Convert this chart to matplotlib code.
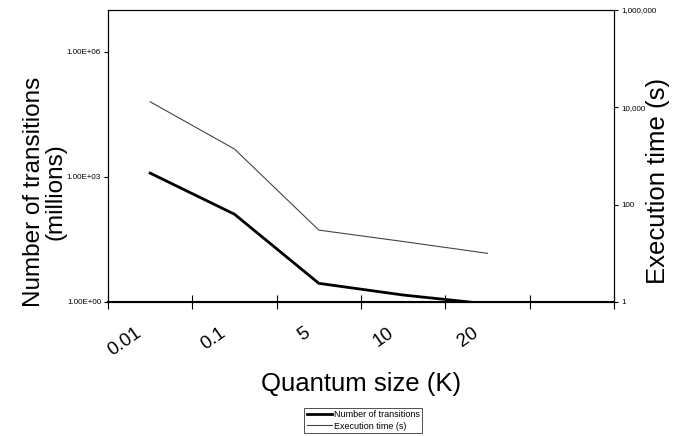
import matplotlib.pyplot as plt
import matplotlib.transforms as mtransforms
from matplotlib.ticker import FixedLocator, NullLocator

plt.rcParams['font.family'] = ['Liberation Sans', 'DejaVu Sans']

# --- values ---
quantum = ["0.01", "0.1", "5", "10", "20", ""]
transitions = [1230, 127, 2.8, 1.47, 0.9]      # millions, left axis
exec_time = [13000, 1390, 30, 17.5, 10]        # seconds, right axis

xs = list(range(len(transitions)))

fig = plt.figure(figsize=(6.83, 4.36), dpi=100)
ax = fig.add_axes([108 / 683, 1 - 302 / 436, (614 - 108) / 683, (302 - 10) / 436])
ax2 = ax.twinx()

l1, = ax.plot(xs, transitions, color='black', lw=2.0, label="Number of transitions")
l2, = ax2.plot(xs, exec_time, color='#444444', lw=0.8, label="Execution time (s)")

ax.set_yscale('log')
ax.set_ylim(1, 1e7)
ax.yaxis.set_major_locator(FixedLocator([1, 1e3, 1e6]))
ax.yaxis.set_minor_locator(NullLocator())
ax.set_yticklabels(["1.00E+00", "1.00E+03", "1.00E+06"], fontsize=5.8)
ax.tick_params(axis='y', length=3, width=0.8, pad=2)

ax2.set_yscale('log')
ax2.set_ylim(1, 1e6)
ax2.yaxis.set_major_locator(FixedLocator([1, 100, 1e4, 1e6]))
ax2.yaxis.set_minor_locator(NullLocator())
ax2.set_yticklabels(["1", "100", "10,000", "1,000,000"], fontsize=5.8)
ax2.tick_params(axis='y', length=3, width=0.8, pad=2)

ax.set_xlim(-0.5, len(quantum) - 0.5)
ax.set_xticks(range(len(quantum)))
ax.set_xticklabels(quantum, rotation=35, ha='right', fontsize=13.5)
ax.tick_params(axis='x', which='major', length=0, pad=16)
shift = mtransforms.ScaledTranslation(-6 / 100, 0, fig.dpi_scale_trans)
for lab in ax.get_xticklabels():
    lab.set_transform(lab.get_transform() + shift)
ax.set_xticks([i - 0.5 for i in range(len(quantum) + 1)], minor=True)
ax.tick_params(axis='x', which='minor', direction='inout', length=10, width=0.8)

for a in (ax, ax2):
    for s in a.spines.values():
        s.set_linewidth(0.8)
ax.spines['bottom'].set_linewidth(1.5)

ax.set_xlabel("Quantum size (K)", fontsize=18.5)
ax.xaxis.set_label_coords(0.5, (302 - 384) / 292, transform=ax.transAxes)
ax.xaxis.label.set_va('center')

ax.set_ylabel("Number of transitions\n(millions)", fontsize=17.5, linespacing=1.0)
ax.yaxis.set_label_coords((45 - 108) / 506, (302 - 192) / 292)
ax.yaxis.label.set_va('center')

ax2.set_ylabel("Execution time (s)", fontsize=18.5)
ax2.yaxis.set_label_coords((658 - 108) / 506, (302 - 181) / 292)
ax2.yaxis.label.set_va('center')

leg = fig.legend(handles=[l1, l2], loc='center', bbox_to_anchor=(363 / 683, 1 - 420.5 / 436),
                 fontsize=6.5, frameon=True, fancybox=False, edgecolor='black',
                 handlelength=2.8, handletextpad=0.2, borderpad=0.3, labelspacing=0.25,
                 borderaxespad=0)
leg.get_frame().set_linewidth(0.6)

fig.savefig("out.png", dpi=100)
